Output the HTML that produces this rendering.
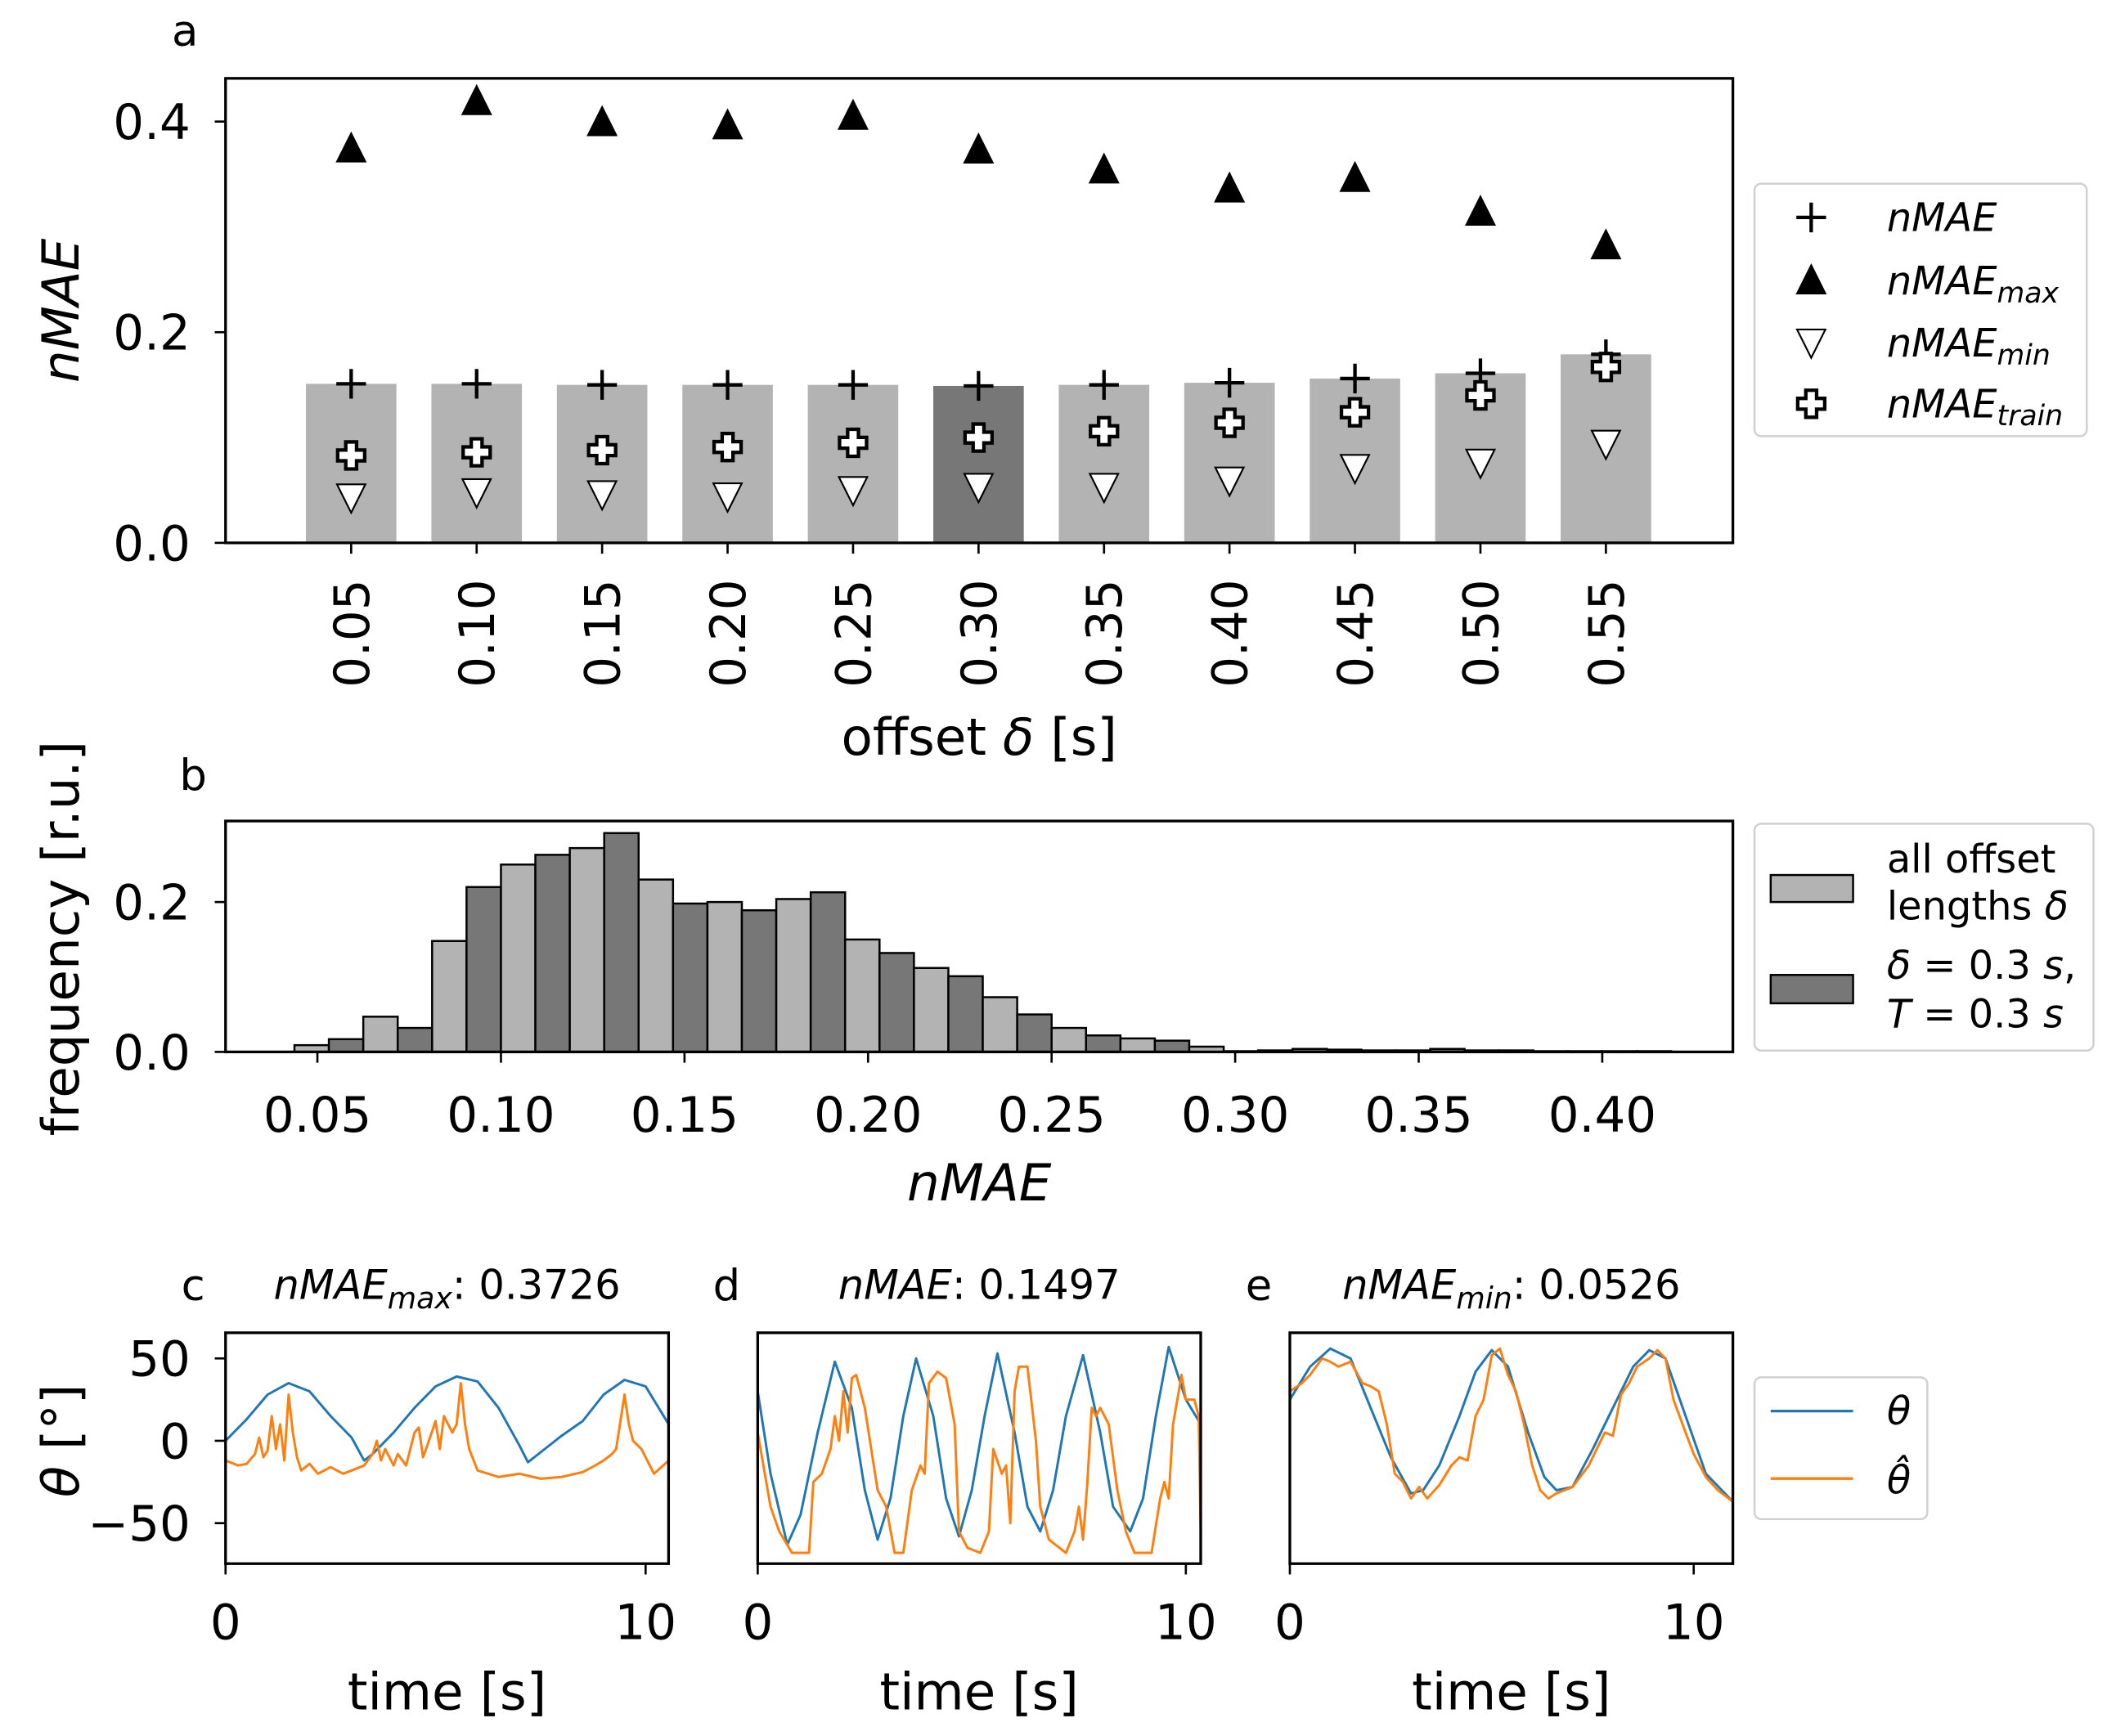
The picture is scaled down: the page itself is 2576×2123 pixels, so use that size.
<!DOCTYPE html>
<html><head><meta charset="utf-8">
<style>
html,body{margin:0;padding:0;background:#fff;}
svg{display:block;font-family:"DejaVu Sans","Liberation Sans",sans-serif;}
</style></head>
<body>
<svg id="fig" width="2576" height="2123" viewBox="0 0 1560 1285.6" xmlns="http://www.w3.org/2000/svg"></svg>
<script>
// ---------- Panel a data ----------
const offsets = ["0.05","0.10","0.15","0.20","0.25","0.30","0.35","0.40","0.45","0.50","0.55"];
const nmaeMean = [0.151,0.151,0.150,0.150,0.150,0.149,0.150,0.152,0.156,0.161,0.179];
const nmaeMax = [0.374,0.419,0.399,0.396,0.405,0.373,0.354,0.336,0.346,0.314,0.282];
const nmaeMin = [0.044,0.049,0.047,0.045,0.051,0.054,0.054,0.060,0.072,0.077,0.095];
const nmaeTrain = [0.083,0.086,0.088,0.091,0.095,0.100,0.106,0.114,0.124,0.140,0.167];
const aYTicks = [0.0,0.2,0.4];
// ---------- Panel b data ----------
const histStart = 0.04375;
const histBinWidth = 0.01875;
const histAll = [0.009,0.047,0.148,0.250,0.272,0.230,0.200,0.204,0.150,0.112,0.073,0.032,0.018,0.007,0.002,0.003,0.002,0.002,0.001,0.001];
const histSel = [0.017,0.032,0.220,0.263,0.292,0.198,0.189,0.213,0.132,0.101,0.050,0.022,0.015,0.001,0.004,0.002,0.004,0.002,0.001,0.001];
const bXTicks = [0.05,0.10,0.15,0.20,0.25,0.30,0.35,0.40];
const bYTicks = [0.0,0.2];
// ---------- Panels c-e data ----------
const cTime = [0,0.5,1.0,1.5,2.0,2.5,3.0,3.3,3.5,4.0,4.5,5.0,5.5,6.0,6.5,7.0,7.2,7.5,8.0,8.5,9.0,9.5,10.0,10.55];
const cTheta = [0,13,28,35,30,15,2,-12,-8,5,20,33,39,36,20,-3,-13,-7,3,12,28,37,33,10];
const cPredTime = [0,0.3,0.5,0.7,0.8,0.9,1.0,1.1,1.2,1.3,1.4,1.5,1.6,1.7,1.8,2.0,2.2,2.5,2.8,3.0,3.3,3.5,3.6,3.7,3.8,4.0,4.1,4.3,4.5,4.6,4.7,4.8,5.0,5.1,5.2,5.4,5.5,5.6,5.7,5.8,6.0,6.5,7.0,7.5,8.0,8.5,8.8,9.0,9.2,9.3,9.5,9.6,9.7,9.9,10.2,10.55];
const cPred = [-12,-15,-14,-8,2,-10,-6,15,-5,10,-12,28,5,-10,-18,-14,-20,-16,-20,-18,-15,-8,0,-12,-5,-15,-8,-15,5,8,-10,-3,12,-5,15,5,10,35,10,-5,-18,-22,-20,-23,-22,-19,-15,-12,-8,-5,28,10,0,-5,-20,-12];
const dTime = [0,0.3,0.69,1.0,1.4,1.8,2.2,2.5,2.8,3.1,3.4,3.7,4.1,4.4,4.7,5.0,5.3,5.6,6.0,6.3,6.6,6.9,7.2,7.6,8.0,8.3,8.7,9.0,9.3,9.6,10.0,10.35];
const dTheta = [30,-20,-63,-45,5,48,20,-30,-60,-35,15,50,15,-35,-58,-30,15,53,5,-40,-55,-30,15,52,5,-40,-55,-35,15,57,25,10];
const dPredTime = [0,0.3,0.5,0.8,1.2,1.3,1.5,1.7,1.8,1.9,2.0,2.1,2.2,2.3,2.5,2.8,3.0,3.2,3.4,3.6,3.8,3.9,4.0,4.2,4.4,4.6,4.7,4.9,5.2,5.4,5.5,5.7,5.8,5.9,6.0,6.1,6.3,6.5,6.6,6.8,7.2,7.4,7.5,7.6,7.7,7.8,7.9,8.0,8.2,8.4,8.6,8.8,9.2,9.4,9.5,9.6,9.7,9.8,9.9,10.0,10.2,10.3,10.35];
const dPred = [5,-40,-55,-68,-68,-25,-20,-5,15,0,30,5,38,40,20,-30,-40,-68,-68,-30,-15,-20,35,42,38,10,-55,-65,-68,-55,-5,-20,-15,-50,30,45,45,0,-40,-60,-68,-55,-40,-60,-25,20,15,20,10,-30,-55,-68,-68,-35,-25,-35,10,25,40,25,25,15,-60];
const eTime = [0,0.5,1.0,1.5,2.0,2.5,3.0,3.3,3.7,4.2,4.6,5.0,5.4,5.9,6.3,6.6,7.0,7.5,8.0,8.5,8.9,9.3,9.8,10.3,10.97];
const eTheta = [25,45,56,50,20,-10,-32,-30,-15,15,42,55,45,5,-22,-30,-28,-5,20,45,55,50,15,-20,-37];
const ePredTime = [0,0.3,0.5,0.8,1.0,1.2,1.5,1.8,2.0,2.2,2.4,2.6,2.8,3.0,3.2,3.4,3.7,4.0,4.2,4.4,4.6,4.8,5.0,5.2,5.4,5.6,5.8,6.0,6.2,6.4,6.6,7.0,7.4,7.6,7.8,8.0,8.2,8.4,8.6,8.9,9.1,9.3,9.5,9.8,10.0,10.3,10.6,10.97];
const ePred = [30,35,40,50,48,45,48,35,33,30,10,-20,-25,-35,-28,-35,-27,-15,-10,-12,15,25,52,56,40,30,10,-15,-30,-35,-32,-28,-15,-5,5,3,28,35,45,50,55,50,25,5,-8,-22,-30,-37];
const cdeYTicks = [-50,0,50];
const timeTicks = [0,10];

const NS="http://www.w3.org/2000/svg";
const svg=document.getElementById('fig');
const TICK=36, TITLE=38, LEG=29;
function el(tag,attrs,parent){const e=document.createElementNS(NS,tag);for(const k in attrs)e.setAttribute(k,attrs[k]);(parent||svg).appendChild(e);return e;}
function txt(s,x,y,size,parent,extra){const t=el('text',Object.assign({x:x,y:y,'font-size':size,fill:'#000'},extra||{}),parent);t.textContent=s;return t;}

// ===== Panel a =====
const A={x0:167,x1:1283,y0:58,y1:402};
const ay=v=>A.y1-v*780;
const ax=i=>260+i*92.9;
const ga=el('g',{});


txt('a',137,34,32,ga,{'text-anchor':'middle'});
offsets.forEach((o,i)=>{
  const r=el('rect',{x:ax(i)-33.5,y:ay(nmaeMean[i]),width:67,height:A.y1-ay(nmaeMean[i]),fill:i===5?'#777777':'#b3b3b3'},ga);
  
  
});
function plusMark(cx,cy,g,name){const p=el('path',{d:`M${cx-11},${cy}H${cx+11}M${cx},${cy-11}V${cy+11}`,stroke:'#000','stroke-width':2.6,fill:'none'},g);}
function triUp(cx,cy,g,name){const p=el('path',{d:`M${cx},${cy-13}L${cx+11.5},${cy+10}L${cx-11.5},${cy+10}Z`,fill:'#000'},g);}
function triDown(cx,cy,g,name){const p=el('path',{d:`M${cx},${cy+12}L${cx+10.5},${cy-9}L${cx-10.5},${cy-9}Z`,fill:'#fff',stroke:'#000','stroke-width':1.3},g);}
function fatPlus(cx,cy,g,name){const a=4,b=10;const p=el('path',{d:`M${cx-a},${cy-b}H${cx+a}V${cy-a}H${cx+b}V${cy+a}H${cx+a}V${cy+b}H${cx-a}V${cy+a}H${cx-b}V${cy-a}H${cx-a}Z`,fill:'#fff',stroke:'#000','stroke-width':2.6},g);}
offsets.forEach((o,i)=>{
  plusMark(ax(i),ay(nmaeMean[i]),ga,'nmae-marker-'+o);
  triUp(ax(i),ay(nmaeMax[i]),ga,'nmae-max-marker-'+o);
  triDown(ax(i),ay(nmaeMin[i]),ga,'nmae-min-marker-'+o);
  fatPlus(ax(i),ay(nmaeTrain[i]),ga,'nmae-train-marker-'+o);
});
el('rect',{x:A.x0,y:A.y0,width:A.x1-A.x0,height:A.y1-A.y0,fill:'none',stroke:'#000','stroke-width':2},ga);
aYTicks.forEach(v=>{el('line',{x1:A.x0-8,x2:A.x0,y1:ay(v),y2:ay(v),stroke:'#000','stroke-width':1.6},ga);
  const t=txt(v.toFixed(1),A.x0-26,ay(v)+13,TICK,ga,{'text-anchor':'end'});});
offsets.forEach((o,i)=>{el('line',{x1:ax(i),x2:ax(i),y1:A.y1,y2:A.y1+8,stroke:'#000','stroke-width':1.6},ga);
  const t=txt(o,0,0,TICK,ga,{'text-anchor':'end',transform:`translate(${ax(i)+13},${A.y1+27}) rotate(-90)`});});
let t=txt('',725,559,TITLE,ga,{'text-anchor':'middle'});t.innerHTML='offset <tspan font-style="italic">δ</tspan> [s]';
t=txt('nMAE',0,0,TITLE,ga,{'text-anchor':'middle','font-style':'italic',transform:'translate(58,230) rotate(-90)'});
// legend a
const la=el('g',{},ga);
el('rect',{x:1299,y:136,width:246,height:187,rx:5,fill:'#fff',stroke:'#d0d0d0','stroke-width':1.5},la);
plusMark(1341,161,la,'legend-marker-nmae');triUp(1341,208,la,'legend-marker-max');triDown(1341,253,la,'legend-marker-min');fatPlus(1341,299,la,'legend-marker-train');
function legLabel(sub,y,g){const tt=el('text',{x:1397,y:y,'font-size':LEG,'font-style':'italic'},g);tt.textContent='nMAE';if(sub){const s=el('tspan',{'font-size':21,dy:6},tt);s.textContent=sub;}return tt;}
legLabel('',171,la);legLabel('max',218,la);legLabel('min',264,la);legLabel('train',309,la);

// ===== Panel b =====
const B={x0:167,x1:1283,y0:608,y1:779};
const bx=v=>235+(v-0.05)*2718;
const by=v=>B.y1-v*555;
const gb=el('g',{});
txt('b',143,585,32,gb,{'text-anchor':'middle'});
histAll.forEach((v,i)=>{
  const l=histStart+i*histBinWidth;const xL=bx(l);const w=bx(l+histBinWidth)-xL;
  const r1=el('rect',{x:xL,y:by(v),width:w/2,height:B.y1-by(v),fill:'#b3b3b3',stroke:'#000','stroke-width':1.5},gb);
  
  const s=histSel[i];
  const r2=el('rect',{x:xL+w/2,y:by(s),width:w/2,height:B.y1-by(s),fill:'#777777',stroke:'#000','stroke-width':1.5},gb);
  
});
el('rect',{x:B.x0,y:B.y0,width:B.x1-B.x0,height:B.y1-B.y0,fill:'none',stroke:'#000','stroke-width':2},gb);
bYTicks.forEach(v=>{el('line',{x1:B.x0-8,x2:B.x0,y1:by(v),y2:by(v),stroke:'#000','stroke-width':1.6},gb);
  const t=txt(v.toFixed(1),B.x0-26,by(v)+13,TICK,gb,{'text-anchor':'end'});});
bXTicks.forEach(v=>{el('line',{x1:bx(v),x2:bx(v),y1:B.y1,y2:B.y1+8,stroke:'#000','stroke-width':1.6},gb);
  const t=txt(v.toFixed(2),bx(v),838,TICK,gb,{'text-anchor':'middle'});});
t=txt('nMAE',725,889,TITLE,gb,{'text-anchor':'middle','font-style':'italic'});
t=txt('frequency [r.u.]',0,0,TITLE,gb,{'text-anchor':'middle',transform:'translate(58,695) rotate(-90)'});
const lb=el('g',{},gb);
el('rect',{x:1299,y:610,width:251,height:168,rx:5,fill:'#fff',stroke:'#d0d0d0','stroke-width':1.5},lb);
el('rect',{x:1311,y:648,width:61,height:20,fill:'#b3b3b3',stroke:'#000','stroke-width':1.5},lb);
el('rect',{x:1311,y:722,width:61,height:21,fill:'#777777',stroke:'#000','stroke-width':1.5},lb);
txt('all offset',1397,646,LEG,lb);
const l2t=txt('',1397,681,LEG,lb);l2t.innerHTML='lengths <tspan font-style="italic">δ</tspan>';
const l3=txt('',1397,725,LEG,lb);l3.innerHTML='<tspan font-style="italic">δ</tspan> = 0.3 <tspan font-style="italic">s</tspan>,';
const l4=txt('',1397,761,LEG,lb);l4.innerHTML='<tspan font-style="italic">T</tspan> = 0.3 <tspan font-style="italic">s</tspan>';

// ===== Panels c-e =====
const Y0=987,Y1=1158;
const ty=v=>1067-v*1.22;
const panels=[
 {name:'c',x0:167,x1:495,x10:478,times:cTime,vals:cTheta,ptimes:cPredTime,pvals:cPred,sub:'max',val:'0.3726',lx:143,tx:331},
 {name:'d',x0:561,x1:889,x10:878,times:dTime,vals:dTheta,ptimes:dPredTime,pvals:dPred,sub:'',val:'0.1497',lx:538,tx:725},
 {name:'e',x0:955,x1:1283,x10:1254,times:eTime,vals:eTheta,ptimes:ePredTime,pvals:ePred,sub:'min',val:'0.0526',lx:932,tx:1119}
];
panels.forEach(p=>{
  const g=el('g',{});
  const px=v=>p.x0+v*(p.x10-p.x0)/10;
  txt(p.name,p.lx,963,32,g,{'text-anchor':'middle'});
  const tt=el('text',{x:p.tx,y:962,'font-size':30,'text-anchor':'middle'},g);
  tt.innerHTML='<tspan font-style="italic">nMAE</tspan>'+(p.sub?'<tspan font-style="italic" font-size="22" dy="7">'+p.sub+'</tspan><tspan dy="-7">: '+p.val+'</tspan>':'<tspan>: '+p.val+'</tspan>');
  
  const cid='clip'+p.name;const cp=el('clipPath',{id:cid},g);el('rect',{x:p.x0,y:Y0,width:p.x1-p.x0,height:Y1-Y0},cp);
  const d1=p.times.map((tm,i)=>(i?'L':'M')+px(tm).toFixed(1)+','+ty(p.vals[i]).toFixed(1)).join('');
  const d2=p.ptimes.map((tm,i)=>(i?'L':'M')+px(tm).toFixed(1)+','+ty(p.pvals[i]).toFixed(1)).join('');
  const l1=el('path',{d:d1,fill:'none',stroke:'#1f77b4','stroke-width':1.8,'stroke-linejoin':'round','clip-path':`url(#${cid})`},g);
  
  const l2=el('path',{d:d2,fill:'none',stroke:'#ff7f0e','stroke-width':1.8,'stroke-linejoin':'round','clip-path':`url(#${cid})`},g);
  
  el('rect',{x:p.x0,y:Y0,width:p.x1-p.x0,height:Y1-Y0,fill:'none',stroke:'#000','stroke-width':2},g);
  timeTicks.forEach(v=>{el('line',{x1:px(v),x2:px(v),y1:Y1,y2:Y1+8,stroke:'#000','stroke-width':1.6},g);
    const t=txt(String(v),px(v),1214,TICK,g,{'text-anchor':'middle'});});
  const xt=txt('time [s]',(p.x0+p.x1)/2,1266,TITLE,g,{'text-anchor':'middle'});
  if(p.name==='c'){
    cdeYTicks.forEach(v=>{el('line',{x1:p.x0-8,x2:p.x0,y1:ty(v),y2:ty(v),stroke:'#000','stroke-width':1.6},g);
      const t=txt(v<0?'−'+Math.abs(v):String(v),p.x0-26,ty(v)+13,TICK,g,{'text-anchor':'end'});});
    const yt=el('text',{'font-size':TITLE,'text-anchor':'middle',transform:'translate(58,1067) rotate(-90)'},g);
    yt.innerHTML='<tspan font-style="italic">θ</tspan> [°]';
  }
});
const lc=el('g',{});
el('rect',{x:1299,y:1020,width:128,height:105,rx:5,fill:'#fff',stroke:'#d0d0d0','stroke-width':1.5},lc);
el('line',{x1:1311,x2:1372,y1:1045,y2:1045,stroke:'#1f77b4','stroke-width':2},lc);
el('line',{x1:1311,x2:1372,y1:1095,y2:1095,stroke:'#ff7f0e','stroke-width':2},lc);
txt('θ',1397,1055,LEG,lc,{'font-style':'italic'});
txt('θ̂',1397,1106,LEG,lc,{'font-style':'italic'});
</script>
</body></html>
